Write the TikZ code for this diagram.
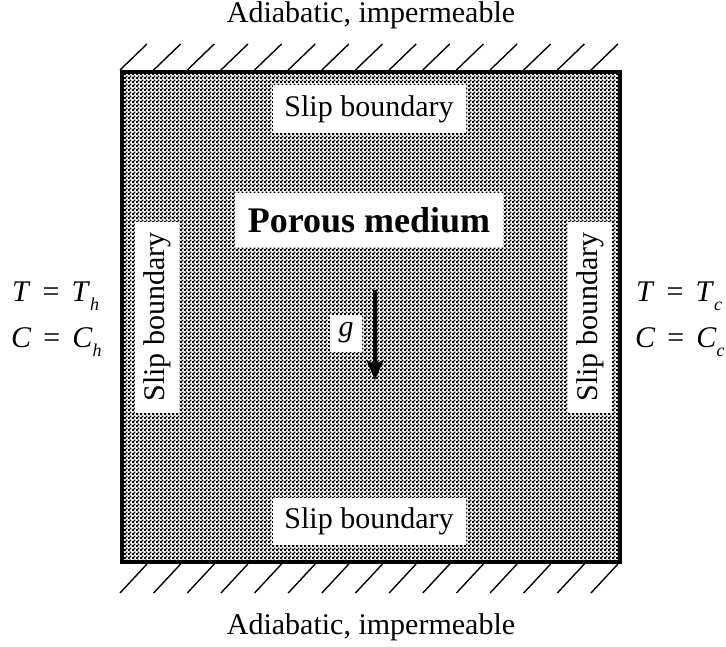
\documentclass[tikz,border=0pt]{standalone}
\usepackage{fontspec}
\setmainfont{Liberation Serif}
\usetikzlibrary{patterns,patterns.meta,arrows.meta,calc}
\tikzdeclarepattern{
  name=porous,
  type=uncolored,
  bounding box={(0pt,0pt) and (4pt,4pt)},
  tile size={(4pt,4pt)},
  code={
    \fill (0pt,0pt) rectangle (2.3pt,2.3pt);
    \fill (2pt,2pt) rectangle (4.3pt,4.3pt);
  }
}
\newcommand{\sbx}[1]{\raisebox{-9pt}{\fontsize{18}{18}\selectfont\itshape #1}}
\newcommand{\eqsp}{\hspace{0.4em}=\hspace{0.4em}}
\begin{document}
\begin{tikzpicture}[x=1pt,y=-1pt,
  lab/.style={font=\fontsize{30}{36}\selectfont},
  wbox/.style={fill=white, inner sep=0pt, font=\fontsize{30}{36}\selectfont},
  hatch/.style={line width=1.4pt},
  porousbox/.style={rectangle, draw, line width=4pt, pattern=porous, pattern color=black, inner sep=0pt},
]
\useasboundingbox (0,0) rectangle (726,646);
\fill[white] (0,0) rectangle (726,646);

% porous domain
\node[porousbox, minimum width=498pt, minimum height=490pt] (box) at (371,317) {};

% hatching (walls)
\foreach \k in {0,...,14}{
  \draw[hatch] ($(box.north west)+(\k*33.64,0)$) -- ++(27,-26);
  \draw[hatch] ($(box.south west)+(\k*33.64,29)$) -- ++(27,-29);
}

% wall labels
\node[lab, anchor=base] (topwall) at (371,22) {Adiabatic, impermeable};
\node[lab, anchor=base] (botwall) at (371,634) {Adiabatic, impermeable};

% slip boundaries
\node[wbox, minimum width=193pt, minimum height=48pt] (st) at (369,109) {Slip boundary};
\node[wbox, minimum width=193pt, minimum height=47pt] (sb) at (369,521) {Slip boundary};
\node[wbox, rotate=90, minimum width=191pt, minimum height=44pt] (sl) at (157,317) {Slip boundary};
\node[wbox, rotate=90, minimum width=191pt, minimum height=44pt] (sr) at (590,317) {Slip boundary};

% porous medium label
\node[wbox, font=\bfseries\fontsize{36}{42}\selectfont, minimum width=268pt, minimum height=54pt] (pm) at (369,220) {Porous medium};

% gravity
\node[wbox, font=\itshape\fontsize{30}{36}\selectfont, minimum width=32pt, minimum height=37pt] (g) at (346,333) {g};
\coordinate (gtop) at (375,290);
\coordinate (gtip) at (375,380);
\draw[line width=3.5pt, -{Stealth[length=20pt,width=17pt,inset=4pt]}] (gtop) -- (gtip);

% boundary conditions
\node[lab, anchor=base west, inner sep=0pt] (th) at (12,301) {\textit{T}\eqsp\textit{T}\sbx{h}};
\node[lab, anchor=base west, inner sep=0pt] (ch) at (11,347) {\textit{C}\eqsp\textit{C}\sbx{h}};
\node[lab, anchor=base west, inner sep=0pt] (tc) at (636,301) {\textit{T}\eqsp\textit{T}\sbx{c}};
\node[lab, anchor=base west, inner sep=0pt] (cc) at (635,347) {\textit{C}\eqsp\textit{C}\sbx{c}};
\end{tikzpicture}
\end{document}
